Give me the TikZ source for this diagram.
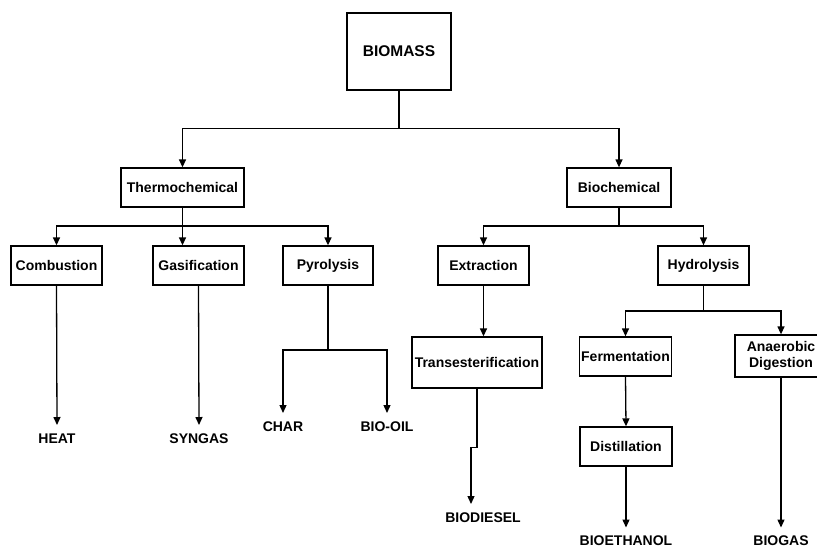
\documentclass[tikz,border=0pt]{standalone}
\usepackage{fontspec}
\setmainfont{Liberation Sans}
\usetikzlibrary{arrows.meta}
\tikzset{
  box/.style={draw, line width=1.3pt, rectangle, inner sep=2pt, align=center,
    font=\fontsize{14}{17}\selectfont\bfseries},
  product/.style={inner sep=0pt, outer sep=8pt, text height=10pt, text depth=0pt,
    font=\fontsize{14}{17}\selectfont\bfseries},
  arr/.style={line width=1.3pt, -{Triangle[length=8pt,width=7pt]}},
  link/.style={line width=1.3pt}
}
\begin{document}
\begin{tikzpicture}[x=1pt, y=-1pt]
  \useasboundingbox (0,0) rectangle (817,547);
  % top level
  \node[box, minimum width=104pt, minimum height=77pt, font=\fontsize{15.5}{18}\selectfont\bfseries] (biomass) at (399,51.5) {BIOMASS};
  \node[box, minimum width=123pt, minimum height=39pt] (thermo) at (182.5,187.5) {Thermochemical};
  \node[box, minimum width=104pt, minimum height=39pt] (biochem) at (619,187.5) {Biochemical};
  % processes
  \node[box, minimum width=91pt, minimum height=39pt] (comb) at (56.5,265.5) {Combustion};
  \node[box, minimum width=91pt, minimum height=39pt] (gasif) at (198.5,265.5) {Gasification};
  \node[box, minimum width=90pt, minimum height=39pt] (pyro) at (328,265.5) {Pyrolysis};
  \node[box, minimum width=91pt, minimum height=39pt] (extr) at (483.5,265.5) {Extraction};
  \node[box, minimum width=91pt, minimum height=39pt] (hydro) at (703.5,265.5) {Hydrolysis};
  \node[box, minimum width=130pt, minimum height=51pt] (trans) at (477,362.5) {Transesterification};
  \node[box, minimum width=91pt, minimum height=39pt] (ferm) at (625.5,356.5) {Fermentation};
  \node[box, minimum width=92pt, minimum height=42pt, font=\fontsize{14}{16}\selectfont\bfseries] (anaer) at (781,356) {Anaerobic\\Digestion};
  \node[box, minimum width=92pt, minimum height=39pt] (dist) at (626,446.5) {Distillation};
  % products
  \node[product] (heat) at (57,438) {HEAT};
  \node[product] (syngas) at (199,438) {SYNGAS};
  \node[product] (char) at (283,426) {CHAR};
  \node[product] (biooil) at (387,426) {BIO-OIL};
  \node[product] (biodiesel) at (483,517) {BIODIESEL};
  \node[product] (bioethanol) at (626,540.5) {BIOETHANOL};
  \node[product] (biogas) at (781,540.5) {BIOGAS};
  % split points
  \coordinate (s0) at (399,128.5);
  \coordinate (s1) at (182.5,226);
  \coordinate (s2) at (619,226);
  \coordinate (s3) at (328,350);
  \coordinate (s4) at (703.5,311);
  % connectors
  \draw[link] (biomass.south) -- (s0);
  \draw[arr] (s0) -| (thermo.north);
  \draw[arr] (s0) -| (biochem.north);
  \draw[link] (thermo.south) -- (s1);
  \draw[arr] (s1) -| (comb.north);
  \draw[arr] (s1) -- (s1 |- gasif.north);
  \draw[arr] (s1) -| (pyro.north);
  \draw[link] (biochem.south) -- (s2);
  \draw[arr] (s2) -| (extr.north);
  \draw[arr] (s2) -| (hydro.north);
  \draw[arr] (comb.south) -- (heat.north);
  \draw[arr] (gasif.south) -- (syngas.north);
  \draw[link] (pyro.south) -- (s3);
  \draw[arr] (s3) -| (char.north);
  \draw[arr] (s3) -| (biooil.north);
  \draw[arr] (extr.south) -- (extr.south |- trans.north);
  \draw[arr] (trans.south) -- ++(0,59) -| ([xshift=-12pt]biodiesel.north);
  \draw[link] (hydro.south) -- (s4);
  \draw[arr] (s4) -| (ferm.north);
  \draw[arr] (s4) -| (anaer.north);
  \draw[arr] (ferm.south) -- (dist.north);
  \draw[arr] (dist.south) -- (bioethanol.north);
  \draw[arr] (anaer.south) -- (biogas.north);
\end{tikzpicture}
\end{document}
